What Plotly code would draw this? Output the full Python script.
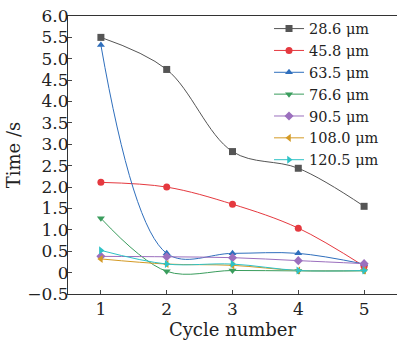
import plotly.graph_objects as go

cycles = [1, 2, 3, 4, 5]
names = ["28.6 μm", "45.8 μm", "63.5 μm", "76.6 μm", "90.5 μm", "108.0 μm", "120.5 μm"]
s286 = [5.50, 4.75, 2.83, 2.44, 1.55]
s458 = [2.11, 2.00, 1.60, 1.04, 0.15]
s635 = [5.32, 0.45, 0.45, 0.45, 0.20]
s766 = [1.27, 0.03, 0.05, 0.04, 0.04]
s905 = [0.38, 0.37, 0.35, 0.28, 0.21]
s1080 = [0.32, 0.20, 0.17, 0.05, 0.05]
s1205 = [0.52, 0.20, 0.20, 0.05, 0.05]
series = [s286, s458, s635, s766, s905, s1080, s1205]

colors = ["#555555", "#e5393f", "#2f6fbd", "#3a9d5d", "#9b6fbe", "#d49a25", "#2ec2c6"]
symbols = ["square", "circle", "triangle-up", "triangle-down", "diamond", "triangle-left", "triangle-right"]

ytickvals = [-0.5, 0, 0.5, 1.0, 1.5, 2.0, 2.5, 3.0, 3.5, 4.0, 4.5, 5.0, 5.5, 6.0]
yticktext = ["\u22120.5", "0", "0.5", "1.0", "1.5", "2.0", "2.5", "3.0", "3.5", "4.0", "4.5", "5.0", "5.5", "6.0"]

FONT = "DejaVu Serif"

fig = go.Figure()
for name, vals, c, sym in zip(names, series, colors, symbols):
    fig.add_trace(go.Scatter(
        x=cycles, y=vals, name=name, mode="lines+markers",
        line=dict(color=c, width=1, shape="spline", smoothing=1.0),
        marker=dict(symbol=sym, size=7, color=c),
    ))

fig.update_layout(
    width=397, height=347,
    margin=dict(l=68, r=0, t=16, b=53),
    paper_bgcolor="white", plot_bgcolor="white",
    font=dict(family=FONT, size=15, color="#222222"),
    showlegend=True,
    legend=dict(x=0.611, y=1.012, xanchor="left", yanchor="top",
                bgcolor="rgba(0,0,0,0)", font=dict(size=14.5, family=FONT),
                itemwidth=30, tracegroupgap=0),
    xaxis=dict(range=[0.5, 5.5], tickvals=cycles, ticks="inside", ticklen=4,
               showline=True, linecolor="#333333", linewidth=1, mirror=True,
               showgrid=False, zeroline=False, automargin=False,
               tickfont=dict(size=17, family=FONT),
               title=dict(text="Cycle number", font=dict(size=18, family=FONT), standoff=2)),
    yaxis=dict(range=[-0.5, 6.0], tickvals=ytickvals, ticktext=yticktext,
               ticks="inside", ticklen=4, ticklabelstandoff=-5,
               showline=True, linecolor="#333333", linewidth=1,
               showgrid=False, zeroline=False, automargin=False,
               tickfont=dict(size=17, family=FONT),
               title=dict(text="Time /s", font=dict(size=18, family=FONT), standoff=2)),
)

fig.write_html("out.html", config={"displayModeBar": False},
               post_script="document.body.style.margin='0';")
